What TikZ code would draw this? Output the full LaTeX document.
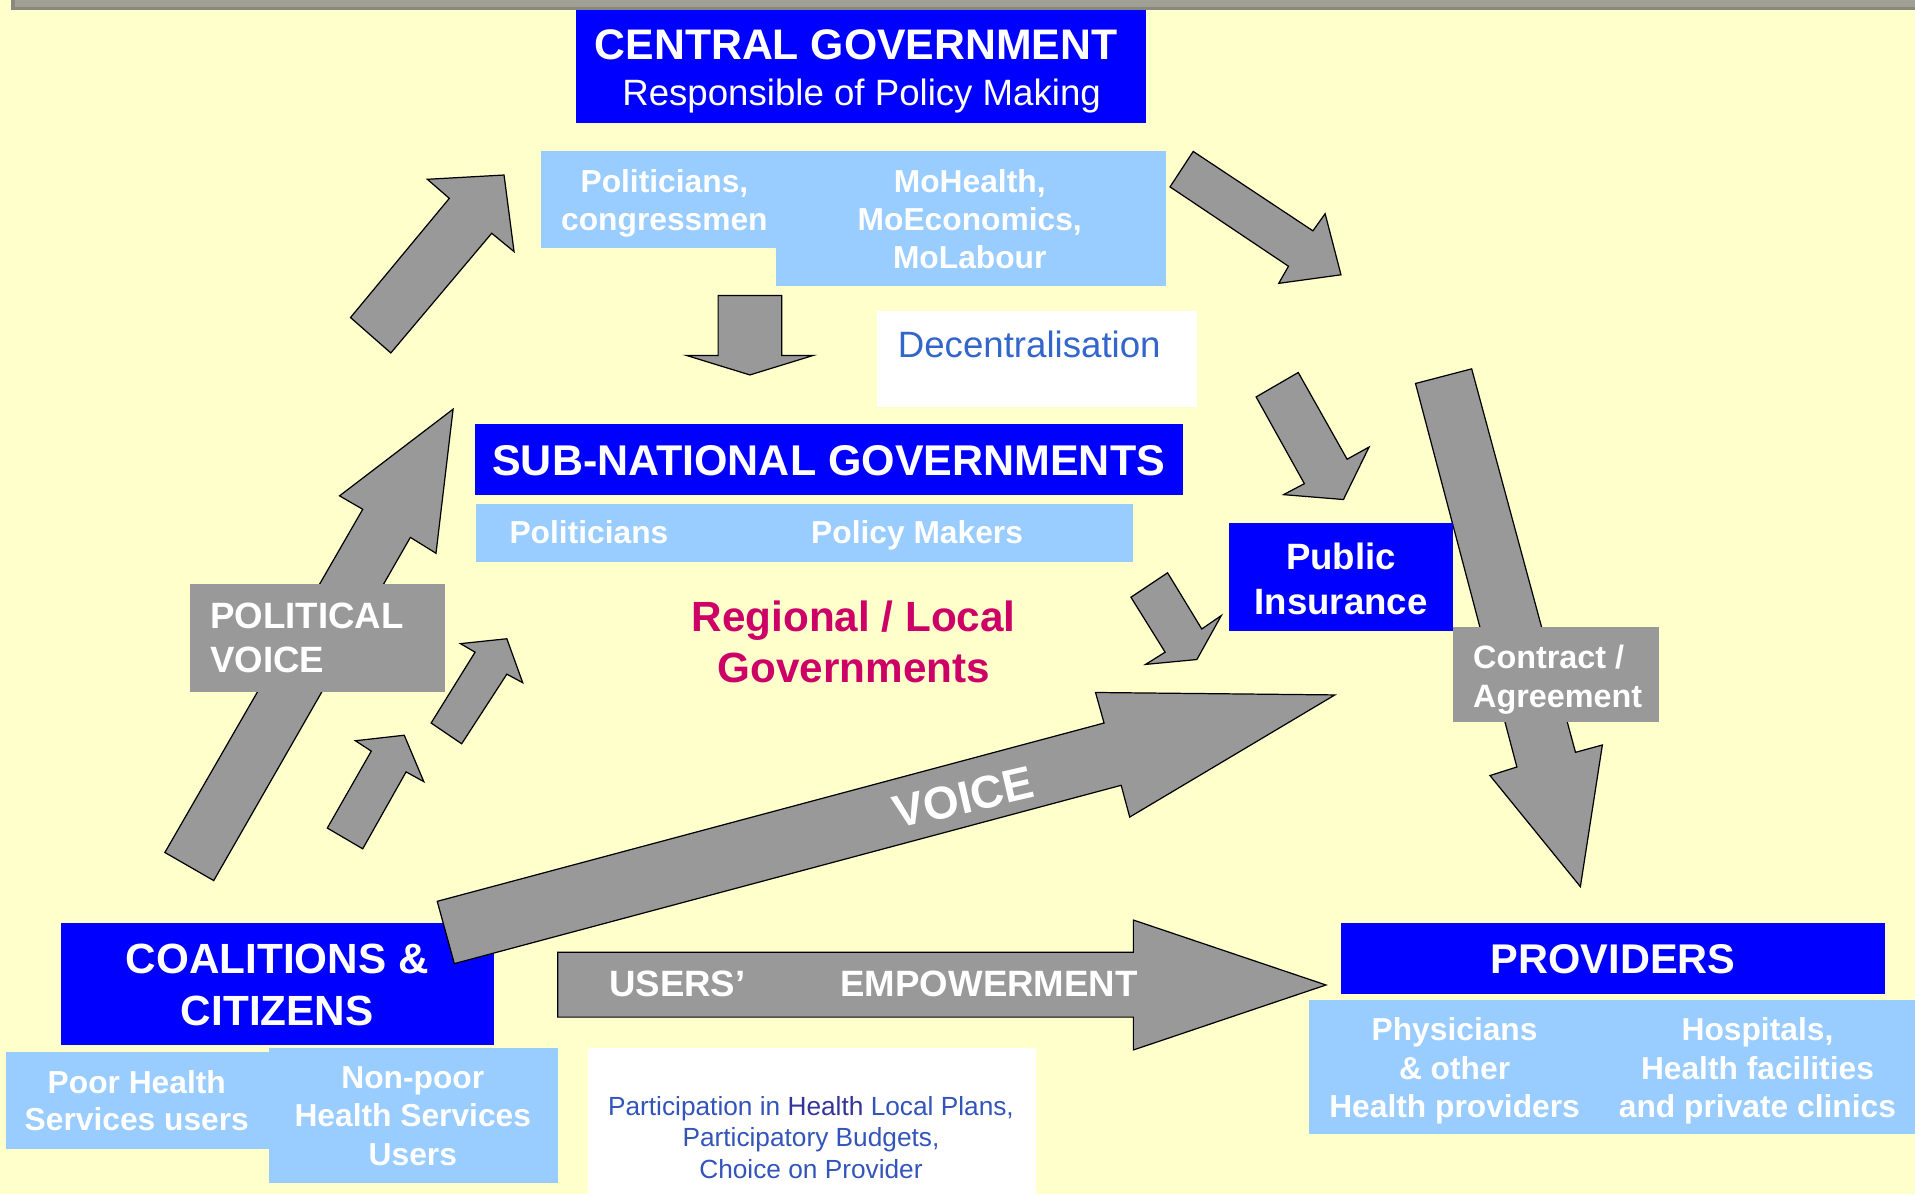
\documentclass[tikz,border=0pt]{standalone}
\usepackage{fontspec}
\setmainfont{Liberation Sans}
\definecolor{bgyellow}{HTML}{FFFFCC}
\definecolor{mainblue}{HTML}{0000FF}
\definecolor{lightblue}{HTML}{99CCFF}
\definecolor{arrowgray}{HTML}{999999}
\definecolor{boxgray}{HTML}{999999}
\definecolor{bardark}{HTML}{88887F}
\definecolor{barlight}{HTML}{A0A094}
\definecolor{magentared}{HTML}{CC0066}
\definecolor{decblue}{HTML}{3366CC}
\definecolor{partblue}{HTML}{3355BB}
\definecolor{partdark}{HTML}{333399}
\newcommand\myfsXL{\fontsize{35}{42}\selectfont}
\newcommand\myfsL{\fontsize{34}{41}\selectfont}
\newcommand\myfsLL{\fontsize{34.6}{41}\selectfont}
\newcommand\myfsM{\fontsize{30}{36}\selectfont}
\newcommand\myfsR{\fontsize{30}{36}\selectfont}
\newcommand\myfsC{\fontsize{26.5}{32}\selectfont}
\newcommand\myfsS{\fontsize{26}{31}\selectfont}
\newcommand\myfsT{\fontsize{21.5}{26}\selectfont}
\begin{document}
\begin{tikzpicture}[x=1pt,y=-1pt,
  rbox/.style={draw=none,inner sep=0pt,outer sep=0pt,anchor=north west},
  blk/.style={fill=arrowgray,draw=black,line width=1pt,line join=miter},
  wtxt/.style={text=white,font=\bfseries,inner sep=0pt,anchor=base},
]
\useasboundingbox (0,0) rectangle (1568,978);
\fill[bgyellow] (0,0) rectangle (1568,978);
\fill[bardark] (9,0) rectangle (1568,8.5);
\fill[barlight] (12,0) rectangle (1568,5.5);

% coalitions box (under the VOICE arrow)
\node[rbox,fill=mainblue,minimum width=354.4,minimum height=99.4] (coal) at (50,756) {};
\node[wtxt,font=\bfseries\myfsLL] (coalA) at (227,797) {COALITIONS \&};
\node[wtxt,font=\bfseries\myfsLL] (coalB) at (227,840) {CITIZENS};

% ---- block arrows ----
% top-left up arrow
\draw[blk] (412.7,143.3) -- (420.9,206) -- (402.6,191) -- (320,289) -- (287,260) -- (367.9,162.4) -- (349.9,146.8) -- cycle;
% top-right down arrow
\draw[blk] (977,124) -- (958,153) -- (1055,218) -- (1047,232) -- (1098,225) -- (1085,175) -- (1075,189) -- cycle;
% central down arrow
\draw[blk] (588,242) -- (640,242) -- (640,291) -- (666,291) -- (614,307) -- (562,291) -- (588,291) -- cycle;
% arrow to public insurance
\draw[blk] (1063,305) -- (1028.5,325) -- (1068,396) -- (1051,405) -- (1100,409) -- (1121,366) -- (1103,376) -- cycle;
% arrow from regional to public insurance
\draw[blk] (956,469) -- (926,489) -- (954,534) -- (938,544) -- (980,540) -- (1000,504) -- (984,515) -- cycle;
% long contract arrow
\draw[blk] (1159,314) -- (1205,302) -- (1290,616) -- (1312,610) -- (1294,726) -- (1220,635) -- (1242,628) -- cycle;
% political voice big arrow
\draw[blk] (371,335) -- (357,453) -- (336,440) -- (175,721) -- (135,698) -- (297,417) -- (278,406) -- cycle;
% small arrows
\draw[blk] (415,523) -- (428,559) -- (415,552) -- (378,609) -- (353,592) -- (389,534) -- (377,527) -- cycle;
\draw[blk] (331,602) -- (347,640) -- (332.5,632) -- (297,695) -- (268,678) -- (304,615) -- (291,606.5) -- cycle;
% VOICE arrow
\draw[blk] (358,738) -- (904,592) -- (897,567) -- (1093,569) -- (925,669) -- (918,643) -- (372,789) -- cycle;
\node[wtxt,anchor=center,rotate=13,font=\bfseries\fontsize{37.5}{42}\selectfont] (voice) at (789,653) {VOICE};
% users' empowerment arrow
\draw[blk] (456.7,779.6) -- (928,779.6) -- (928,753.3) -- (1085.7,806.5) -- (928,859.7) -- (928,832.8) -- (456.7,832.8) -- cycle;
\node[wtxt,anchor=base west,font=\bfseries\myfsM] (users) at (498.6,816) {USERS’};
\node[wtxt,anchor=base west,font=\bfseries\myfsM] (empow) at (688,816) {EMPOWERMENT};

% ---- central government ----
\node[rbox,fill=mainblue,minimum width=466,minimum height=93] (central) at (472,8) {};
\node[wtxt,font=\bfseries\myfsXL] (centralA) at (701,49) {CENTRAL GOVERNMENT};
\node[wtxt,font=\myfsR] (centralB) at (705.5,86) {Responsible of Policy Making};
\node[rbox,fill=lightblue,minimum width=192,minimum height=79] (polc) at (443,124) {};
\node[rbox,fill=lightblue,minimum width=320,minimum height=110] (moh) at (635,124) {};
\node[wtxt,font=\bfseries\myfsS] (polcA) at (544,158) {Politicians,};
\node[wtxt,font=\bfseries\myfsS] (polcB) at (544,189) {congressmen};
\node[wtxt,font=\bfseries\myfsS] (mohA) at (794,158) {MoHealth,};
\node[wtxt,font=\bfseries\myfsS] (mohB) at (794,189) {MoEconomics,};
\node[wtxt,font=\bfseries\myfsS] (mohC) at (794,220) {MoLabour};

% decentralisation
\node[rbox,fill=white,minimum width=262,minimum height=78] (dec) at (718,255) {};
\node[inner sep=0pt,anchor=base west,text=decblue,font=\myfsM] (decT) at (735,293) {Decentralisation};

% ---- sub-national ----
\node[rbox,fill=mainblue,minimum width=580,minimum height=58] (subnat) at (389,347) {};
\node[wtxt,font=\bfseries\fontsize{35.2}{42}\selectfont] (subnatT) at (678.5,389) {SUB-NATIONAL GOVERNMENTS};
\node[rbox,fill=lightblue,minimum width=538,minimum height=47] (subbar) at (390,413) {};
\node[wtxt,anchor=base west,font=\bfseries\myfsS] (subA) at (417,445) {Politicians};
\node[wtxt,anchor=base west,font=\bfseries\myfsS] (subB) at (664,445) {Policy Makers};
\node[inner sep=0pt,anchor=base,text=magentared,font=\bfseries\myfsLL] (regA) at (699,517) {Regional / Local};
\node[inner sep=0pt,anchor=base,text=magentared,font=\bfseries\myfsLL] (regB) at (699,559) {Governments};

% political voice box
\node[rbox,fill=boxgray,minimum width=209,minimum height=89] (pv) at (155.5,478) {};
\node[wtxt,anchor=base west,font=\bfseries\myfsM] (pvA) at (172,515) {POLITICAL};
\node[wtxt,anchor=base west,font=\bfseries\myfsM] (pvB) at (172,551) {VOICE};

% public insurance
\node[rbox,fill=mainblue,minimum width=183.5,minimum height=89] (pi) at (1006,428) {};
\node[wtxt,font=\bfseries\myfsM] (piA) at (1098,466) {Public};
\node[wtxt,font=\bfseries\myfsM] (piB) at (1098,503) {Insurance};

% contract box
\node[rbox,fill=boxgray,minimum width=168.5,minimum height=78.4] (ctr) at (1189.5,513) {};
\node[wtxt,anchor=base west,font=\bfseries\myfsC] (ctrA) at (1206,547) {Contract /};
\node[wtxt,anchor=base west,font=\bfseries\myfsC] (ctrB) at (1206,579) {Agreement};

% ---- citizens sub boxes ----
\node[rbox,fill=lightblue,minimum width=215.4,minimum height=79] (poor) at (4.6,861.5) {};
\node[rbox,fill=lightblue,minimum width=236.7,minimum height=110.4] (nonpoor) at (220,858) {};
\node[wtxt,font=\bfseries\myfsS] (poorA) at (112,895) {Poor Health};
\node[wtxt,font=\bfseries\myfsS] (poorB) at (112,925.5) {Services users};
\node[wtxt,font=\bfseries\myfsS] (npA) at (338,891) {Non-poor};
\node[wtxt,font=\bfseries\myfsS] (npB) at (338,922.5) {Health Services};
\node[wtxt,font=\bfseries\myfsS] (npC) at (338,954) {Users};

% participation box
\node[rbox,fill=white,minimum width=366.9,minimum height=125] (part) at (481.4,858) {};
\node[inner sep=0pt,anchor=base,text=partblue,font=\myfsT] (partA) at (664,913) {Participation in \textcolor{partdark}{Health} Local Plans,};
\node[inner sep=0pt,anchor=base,text=partblue,font=\myfsT] (partB) at (664,939) {Participatory Budgets,};
\node[inner sep=0pt,anchor=base,text=partblue,font=\myfsT] (partC) at (664,965) {Choice on Provider};

% ---- providers ----
\node[rbox,fill=mainblue,minimum width=445.7,minimum height=57.6] (prov) at (1098,756) {};
\node[wtxt,font=\bfseries\myfsL] (provT) at (1320.8,797) {PROVIDERS};
\node[rbox,fill=lightblue,minimum width=496.2,minimum height=110] (provsub) at (1071.8,818.8) {};
\node[wtxt,font=\bfseries\myfsS] (phA) at (1191,851.6) {Physicians};
\node[wtxt,font=\bfseries\myfsS] (phB) at (1191,884) {\& other};
\node[wtxt,font=\bfseries\myfsS] (phC) at (1191,915) {Health providers};
\node[wtxt,font=\bfseries\myfsS] (hoA) at (1439,851.6) {Hospitals,};
\node[wtxt,font=\bfseries\myfsS] (hoB) at (1439,884) {Health facilities};
\node[wtxt,font=\bfseries\myfsS] (hoC) at (1439,915) {and private clinics};
\end{tikzpicture}
\end{document}
